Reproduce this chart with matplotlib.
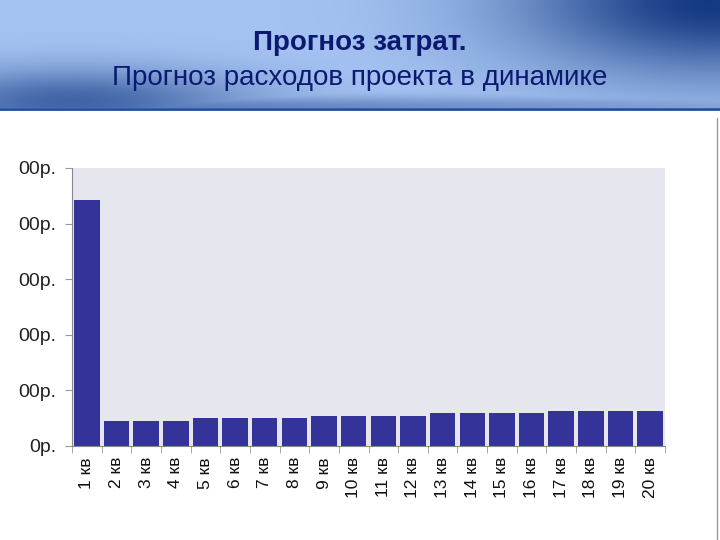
import matplotlib.pyplot as plt
import numpy as np

quarters = ['%d кв' % i for i in range(1, 21)]
costs = [4.42, 0.45, 0.45, 0.45, 0.50, 0.50, 0.50, 0.50, 0.54, 0.54,
         0.54, 0.54, 0.59, 0.59, 0.59, 0.59, 0.63, 0.63, 0.63, 0.63]
y_ticks = [0, 1, 2, 3, 4, 5]
y_labels = ['0р.', '00р.', '00р.', '00р.', '00р.', '00р.']

plt.rcParams['font.family'] = ['Liberation Sans', 'DejaVu Sans']

fig = plt.figure(figsize=(7.2, 5.4), dpi=100)

# header banner with blue gradient
hax = fig.add_axes([0, 1 - 108 / 540, 1, 108 / 540])
xx, yy = np.meshgrid(np.linspace(0, 1, 300), np.linspace(0, 1, 60))
d = np.exp(-((xx - 1.0) ** 2 / 0.08 + yy ** 2 / 0.5)) * 0.95
d = np.maximum(d, np.exp(-((xx - 0.1) ** 2 / 0.06 + (yy - 0.95) ** 2 / 0.1)) * 0.65)
d = np.maximum(d, np.exp(-((yy - 1.0) ** 2 / 0.01)) * 0.55 * (1 - 0.6 * xx))
light = np.array([165, 195, 242]) / 255
dark = np.array([12, 50, 125]) / 255
img = light[None, None, :] * (1 - d[..., None]) + dark[None, None, :] * d[..., None]
hax.imshow(img, aspect='auto', extent=[0, 1, 1, 0])
hax.set_xlim(0, 1)
hax.set_ylim(1, 0)
hax.axis('off')
fig.add_artist(plt.Line2D([0, 1], [1 - 109 / 540] * 2, color='#1f4fa0', lw=2))
fig.text(0.5, 1 - 43 / 540, 'Прогноз затрат.', ha='center', va='center',
         fontsize=20, fontweight='bold', color='#0b1a70')
fig.text(0.5, 1 - 78 / 540, 'Прогноз расходов проекта в динамике', ha='center',
         va='center', fontsize=20, color='#0b1a70')

# right edge gray line
fig.add_artist(plt.Line2D([717 / 720] * 2, [0, 1 - 118 / 540], color='#999999', lw=1))

ax = fig.add_axes([72 / 720, 1 - 446 / 540, 593 / 720, 278 / 540])
ax.set_facecolor('#e6e6ee')
x = np.arange(len(quarters))
ax.bar(x, costs, width=0.86, color='#333399')
ax.set_xlim(-0.5, len(quarters) - 0.5)
ax.set_ylim(0, 5)
ax.set_yticks(y_ticks)
ax.set_yticklabels(y_labels, fontsize=14, color='#222222')
ax.set_xticks(x)
ax.set_xticklabels(quarters, rotation=90, fontsize=12.5, color='#111111')
ax.tick_params(axis='x', length=0, pad=8)
ax.set_xticks(np.arange(-0.5, len(quarters), 1), minor=True)
ax.tick_params(axis='x', which='minor', length=5, color='#999999')
ax.tick_params(axis='y', length=5, color='#999999', pad=6)
for s in ['top', 'right']:
    ax.spines[s].set_visible(False)
ax.spines['left'].set_color('#888888')
ax.spines['bottom'].set_color('#888888')

fig.savefig('out.png', dpi=100)
